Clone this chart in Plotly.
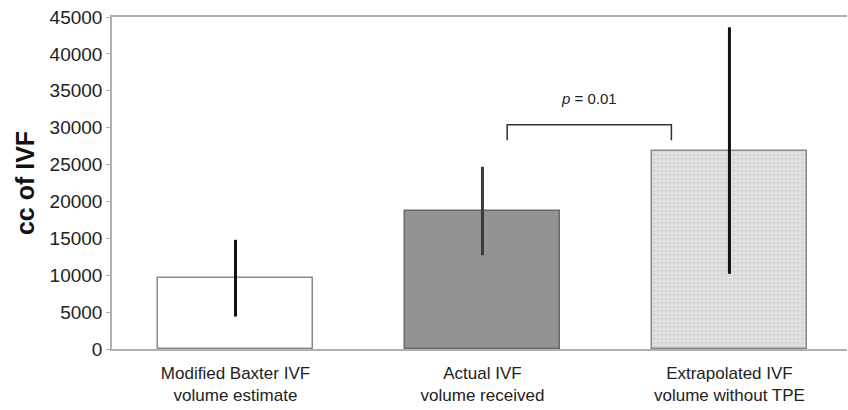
import plotly.graph_objects as go

# Mean IVF volume (cc) per group with standard deviation
categories = ["Modified Baxter IVF<br>volume estimate",
              "Actual IVF<br>volume received",
              "Extrapolated IVF<br>volume without TPE"]
means = [9600, 18700, 26900]
sds = [5200, 6000, 16700]

y_ticks = [0, 5000, 10000, 15000, 20000, 25000, 30000, 35000, 40000, 45000]

# Significance bracket between groups 2 and 3
bracket_x = [1.10, 1.765]
bracket_top = 30400
bracket_foot = 28300
p_label_y = 34000
p_label = "<i>p</i> = 0.01"

x_pos = list(range(len(categories)))

fills = ["#ffffff", "#939393", "#dedede"]
outlines = ["#8a8a8a", "#6a6a6a", "#8a8a8a"]
err_colors = ["#111111", "#3a3a3a", "#111111"]

fig = go.Figure()
for i in x_pos:
    marker = dict(color=fills[i], line=dict(color=outlines[i], width=1.5))
    if i == 2:
        marker["pattern"] = dict(shape=".", fgcolor="#c4c4c4", bgcolor="#e0e0e0",
                                 size=4, solidity=0.25)
    fig.add_trace(go.Bar(
        x=[x_pos[i]], y=[means[i]], width=0.63,
        marker=marker,
        error_y=dict(type="data", array=[sds[i]], visible=True,
                     color=err_colors[i], thickness=3, width=0),
        showlegend=False,
    ))

# bracket
fig.add_shape(type="path",
              path=(f"M {bracket_x[0]} {bracket_foot} L {bracket_x[0]} {bracket_top} "
                    f"L {bracket_x[1]} {bracket_top} L {bracket_x[1]} {bracket_foot}"),
              line=dict(color="#333333", width=1.5), xref="x", yref="y")
fig.add_annotation(x=sum(bracket_x) / 2, y=p_label_y, text=p_label, showarrow=False,
                   font=dict(family="Liberation Sans, Arial, sans-serif", size=15, color="#222222"))

font = "Liberation Sans, Arial, sans-serif"
fig.update_layout(
    width=848, height=410,
    margin=dict(l=112, r=1, t=17, b=61),
    paper_bgcolor="white", plot_bgcolor="white",
    bargap=0,
    font=dict(family=font, color="#222222"),
    xaxis=dict(
        range=[-0.5, 2.476],
        tickvals=x_pos, ticktext=categories,
        showline=True, linecolor="#b0b0b0", linewidth=1.5, mirror=True,
        ticks="", showgrid=False, zeroline=False,
        tickfont=dict(size=17, color="#222222"),
        ticklabelstandoff=8,
        automargin=False,
    ),
    yaxis=dict(
        range=[0, 45000],
        tickvals=y_ticks, ticktext=[str(v) for v in y_ticks],
        showline=True, linecolor="#b0b0b0", linewidth=1.5,
        ticks="outside", ticklen=4, tickcolor="#b0b0b0",
        showgrid=False, zeroline=False,
        tickfont=dict(size=19, color="#222222"),
        title=dict(text="<b>cc of IVF</b>", font=dict(size=25, color="#111111"), standoff=8),
        automargin=False,
    ),
)

fig.write_html("out.html")
